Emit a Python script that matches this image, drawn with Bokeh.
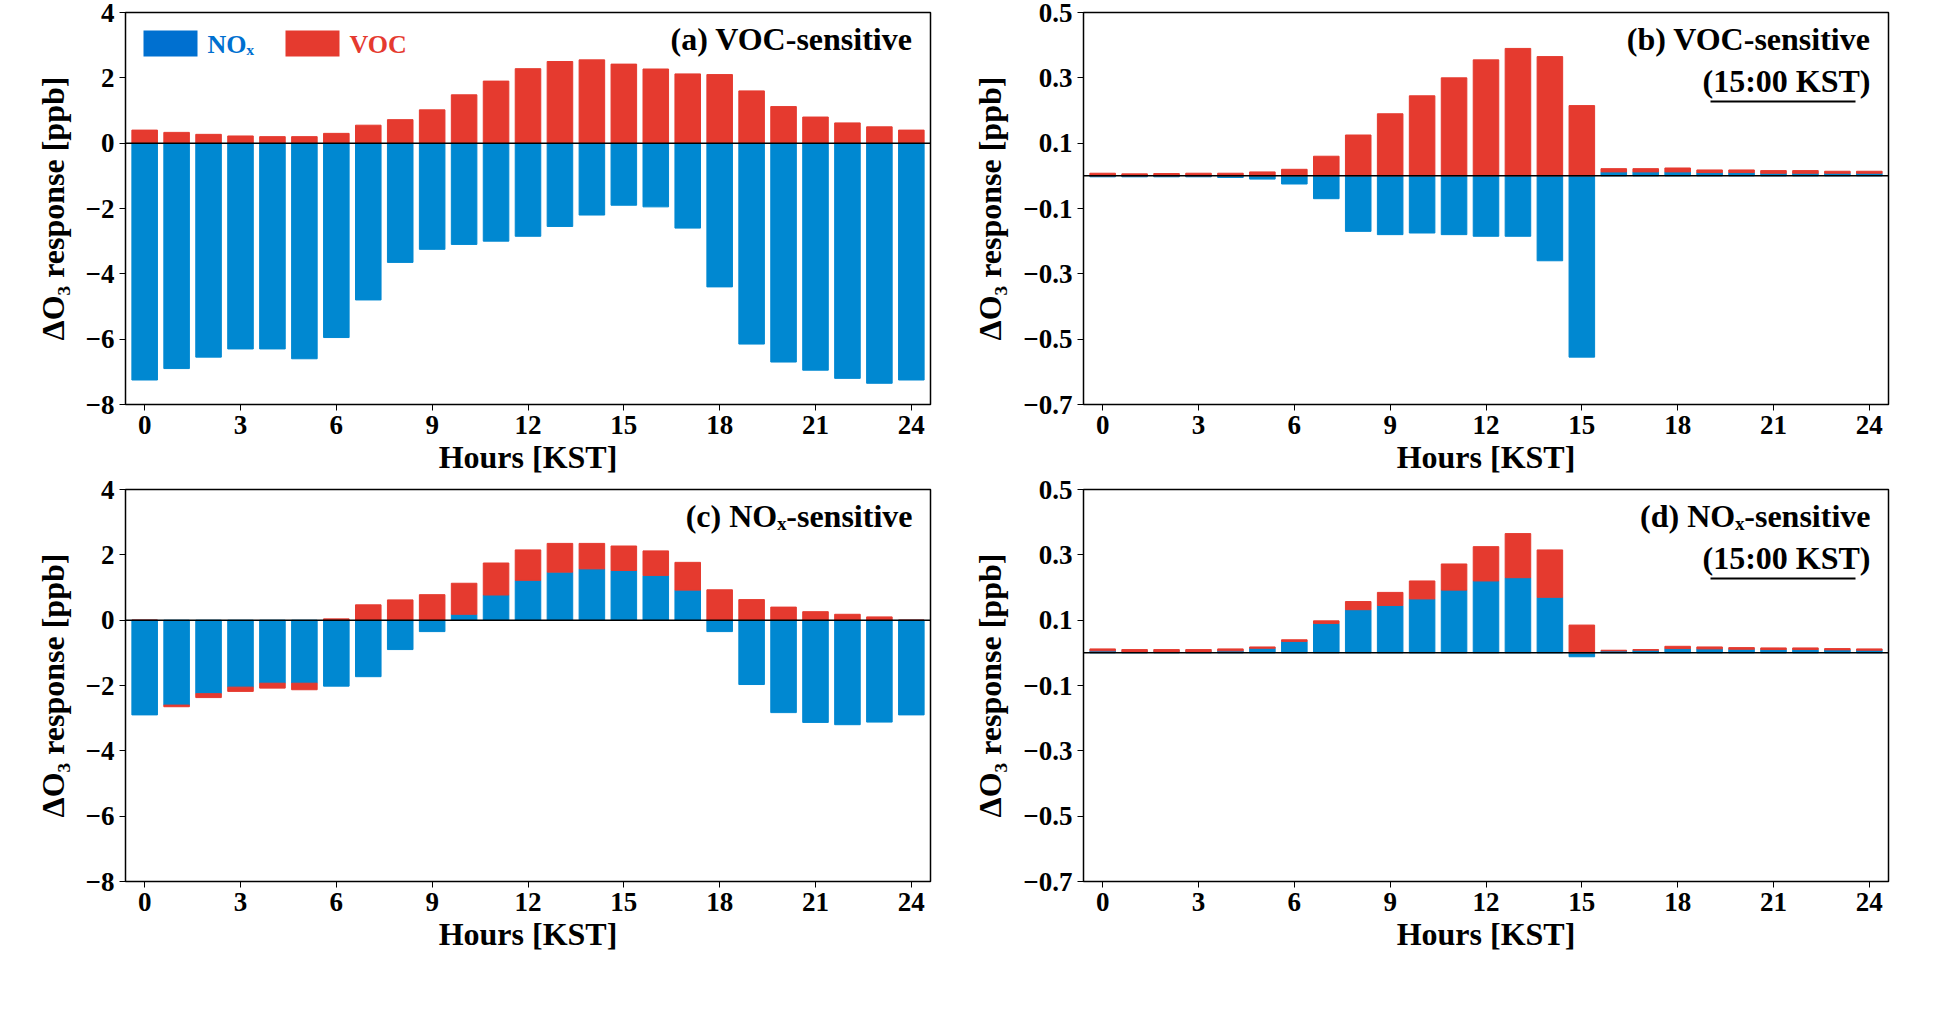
from bokeh.plotting import figure
from bokeh.layouts import gridplot
from bokeh.models import Label, Span, FixedTicker, Range1d, BoxAnnotation
from bokeh.embed import file_html
from bokeh.resources import INLINE

hours = list(range(25))
nox_a = [-7.25,-6.9,-6.55,-6.3,-6.3,-6.6,-5.95,-4.8,-3.65,-3.25,-3.1,-3.0,-2.85,-2.55,-2.2,-1.9,-1.95,-2.6,-4.4,-6.15,-6.7,-6.95,-7.2,-7.35,-7.25]
voc_a = [0.4,0.33,0.27,0.22,0.2,0.2,0.3,0.55,0.72,1.02,1.48,1.9,2.28,2.5,2.55,2.42,2.27,2.12,2.1,1.6,1.12,0.8,0.62,0.5,0.4]
nox_b = [-0.003,-0.003,-0.003,-0.003,-0.005,-0.01,-0.025,-0.07,-0.17,-0.18,-0.175,-0.18,-0.185,-0.185,-0.26,-0.555,0.012,0.012,0.012,0.01,0.01,0.008,0.008,0.008,0.008]
voc_b = [0.008,0.006,0.007,0.008,0.008,0.012,0.02,0.06,0.125,0.19,0.245,0.3,0.355,0.39,0.365,0.215,0.01,0.01,0.012,0.008,0.008,0.008,0.008,0.006,0.006]
nox_c = [-2.9,-2.6,-2.25,-2.05,-1.93,-1.93,-2.02,-1.73,-0.9,-0.35,0.18,0.77,1.22,1.47,1.57,1.52,1.37,0.92,-0.35,-1.97,-2.83,-3.13,-3.2,-3.12,-2.9]
voc_c = [0.0,-0.05,-0.12,-0.13,-0.15,-0.2,0.04,0.47,0.62,0.78,0.95,0.98,0.93,0.88,0.78,0.75,0.75,0.85,0.93,0.63,0.4,0.26,0.18,0.1,0.0]
nox_d = [0.006,0.004,0.004,0.004,0.006,0.014,0.035,0.09,0.132,0.145,0.165,0.192,0.22,0.23,0.17,-0.012,0.006,0.008,0.013,0.012,0.011,0.01,0.01,0.009,0.008]
voc_d = [0.006,0.006,0.006,0.006,0.006,0.004,0.005,0.008,0.025,0.04,0.055,0.08,0.105,0.135,0.145,0.085,0.002,0.002,0.007,0.006,0.005,0.005,0.005,0.004,0.004]

BLUE = "#0088D1"
RED = "#E53A2F"
FONT = "Liberation Serif"
FW, FH = 805, 392

def stack(nox, voc):
    nb, nt, vb, vt = [], [], [], []
    for n, v in zip(nox, voc):
        nb.append(0); nt.append(n)
        if (v >= 0) == (n >= 0):
            vb.append(n); vt.append(n + v)
        else:
            vb.append(0); vt.append(v)
    return nb, nt, vb, vt

def scr(**kw):
    d = {}
    for k in kw:
        d[k + "_units"] = "screen"
    d.update(kw)
    return d

def panel(nox, voc, yr, yticks, title_lines, legend=False):
    p = figure(frame_width=FW, frame_height=FH, output_backend="svg", toolbar_location=None,
               x_range=Range1d(-0.6, 24.6), y_range=Range1d(*yr), min_border_left=125,
               min_border_right=28, min_border_top=12, min_border_bottom=10)
    nb, nt, vb, vt = stack(nox, voc)
    p.vbar(x=hours, bottom=nb, top=nt, width=0.8, color=BLUE)
    p.vbar(x=hours, bottom=vb, top=vt, width=0.8, color=RED)
    p.add_layout(Span(location=0, dimension="width", line_color="black", line_width=1.5))
    p.xgrid.visible = False; p.ygrid.visible = False
    p.outline_line_color = "black"; p.outline_line_width = 1.5
    p.xaxis.ticker = FixedTicker(ticks=list(range(0, 25, 3)))
    p.yaxis.ticker = FixedTicker(ticks=yticks)
    for ax in (p.xaxis[0], p.yaxis[0]):
        ax.major_label_text_font = FONT
        ax.major_label_text_font_style = "bold"
        ax.major_label_text_font_size = "27px"
        ax.major_label_text_color = "black"
        ax.axis_label_text_font = FONT
        ax.axis_label_text_font_style = "bold"
        ax.axis_label_text_font_size = "32px"
        ax.axis_label_text_color = "black"
        ax.minor_tick_line_color = None
        ax.major_tick_out = 6; ax.major_tick_in = 0
        ax.axis_line_color = "black"; ax.major_tick_line_color = "black"
    p.xaxis.axis_label = "Hours [KST]"
    p.yaxis.axis_label = "ΔO₃ response [ppb]"
    p.xaxis.axis_label_standoff = 2
    p.yaxis.axis_label_standoff = 12
    for i, t in enumerate(title_lines):
        p.add_layout(Label(x=FW - 18, y=FH - 44 - 42 * i, x_units="screen", y_units="screen",
                           text=t, text_align="right", text_font=FONT, text_font_style="bold",
                           text_font_size="32px", text_color="black"))
    if len(title_lines) > 1:
        p.add_layout(BoxAnnotation(**scr(left=FW - 178, right=FW - 33, bottom=FH - 90, top=FH - 88),
                                   fill_color="black", fill_alpha=1, line_color=None))
    if legend:
        p.add_layout(BoxAnnotation(**scr(left=18, right=72, bottom=FH - 44, top=FH - 18),
                                   fill_color="#0070D0", fill_alpha=1, line_color=None))
        p.add_layout(Label(x=82, y=FH - 46, x_units="screen", y_units="screen", text="NOₓ", text_font=FONT,
                           text_font_style="bold", text_font_size="26px", text_color="#0070D0"))
        p.add_layout(BoxAnnotation(**scr(left=160, right=214, bottom=FH - 44, top=FH - 18),
                                   fill_color=RED, fill_alpha=1, line_color=None))
        p.add_layout(Label(x=224, y=FH - 46, x_units="screen", y_units="screen", text="VOC", text_font=FONT,
                           text_font_style="bold", text_font_size="26px", text_color=RED))
    return p

pa = panel(nox_a, voc_a, (-8, 4), [-8,-6,-4,-2,0,2,4], ["(a) VOC-sensitive"], legend=True)
pb = panel(nox_b, voc_b, (-0.7, 0.5), [-0.7,-0.5,-0.3,-0.1,0.1,0.3,0.5], ["(b) VOC-sensitive", "(15:00 KST)"])
pc = panel(nox_c, voc_c, (-8, 4), [-8,-6,-4,-2,0,2,4], ["(c) NOₓ-sensitive"])
pd = panel(nox_d, voc_d, (-0.7, 0.5), [-0.7,-0.5,-0.3,-0.1,0.1,0.3,0.5], ["(d) NOₓ-sensitive", "(15:00 KST)"])

g = gridplot([[pa, pb], [pc, pd]], toolbar_location=None)
open("out.html", "w").write(file_html(g, INLINE))
